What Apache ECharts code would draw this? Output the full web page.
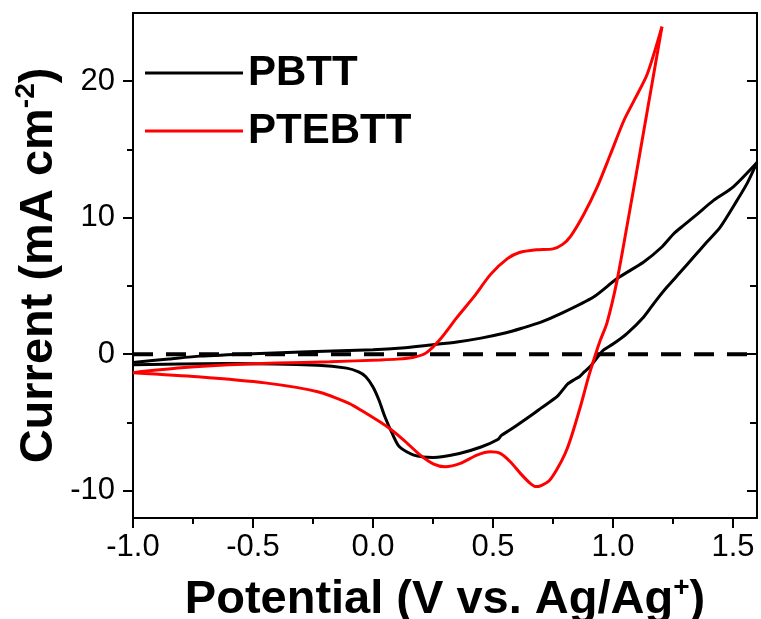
<!DOCTYPE html>
<html>
<head>
<meta charset="utf-8">
<script src="https://cdn.jsdelivr.net/npm/echarts@6/dist/echarts.min.js"></script>
<style>
  html, body { margin: 0; padding: 0; background: #fff; }
  #chart { width: 761px; height: 619px; }
</style>
</head>
<body>
<div id="chart"></div>
<script>
// Axis ranges and tick positions
const potentialRange = [-1.0, 1.6];
const currentRange = [-12, 25];
const xMajorTicks = [-1.0, -0.5, 0.0, 0.5, 1.0, 1.5];
const xMinorTicks = [-0.75, -0.25, 0.25, 0.75, 1.25];
const yMajorTicks = [-10, 0, 10, 20];
const yMinorTicks = [-5, 5, 15];

// Cyclic voltammograms: [potential (V), current density (mA cm-2)]
const pbttForward = [
  [-1.00, -0.60], [-0.85, -0.35], [-0.72, -0.14], [-0.50, 0.04], [-0.27, 0.18],
  [0.00, 0.32], [0.12, 0.45], [0.24, 0.68], [0.35, 0.90], [0.45, 1.18],
  [0.55, 1.55], [0.62, 1.90], [0.70, 2.35], [0.78, 2.95], [0.919, 4.19],
  [1.017, 5.54], [1.128, 6.76], [1.20, 7.80], [1.253, 8.83], [1.294, 9.44],
  [1.35, 10.25], [1.419, 11.27], [1.50, 12.25], [1.60, 14.05]
];
const pbttReverse = [
  [1.60, 14.05], [1.56, 12.55], [1.517, 11.27], [1.447, 9.31], [1.39, 8.20],
  [1.336, 7.12], [1.28, 6.00], [1.225, 4.92], [1.18, 3.95], [1.128, 2.73],
  [1.058, 1.51], [1.003, 0.78], [0.96, 0.30], [0.947, 0.05], [0.905, -0.90],
  [0.88, -1.30], [0.86, -1.65], [0.84, -1.85], [0.81, -2.20], [0.77, -3.05],
  [0.70, -3.95], [0.67, -4.34], [0.57, -5.56], [0.535, -5.95], [0.52, -6.25],
  [0.45, -6.80], [0.36, -7.27], [0.25, -7.56], [0.17, -7.39], [0.11, -6.78],
  [0.08, -5.80], [0.05, -4.60], [0.025, -3.37], [0.00, -2.40], [-0.03, -1.65],
  [-0.06, -1.30], [-0.11, -1.02], [-0.23, -0.80], [-0.60, -0.68], [-1.00, -0.78]
];
const ptebttForward = [
  [-1.00, -1.35], [-0.80, -1.00], [-0.60, -0.78], [-0.40, -0.65], [-0.18, -0.55],
  [0.03, -0.42], [0.10, -0.36], [0.17, -0.22], [0.22, 0.08], [0.28, 1.10],
  [0.35, 2.70], [0.42, 4.20], [0.49, 5.85], [0.56, 7.00], [0.61, 7.45],
  [0.68, 7.65], [0.75, 7.72], [0.79, 8.05], [0.824, 8.66], [0.878, 10.24],
  [0.933, 12.20], [0.989, 14.63], [1.044, 17.07], [1.086, 18.53], [1.142, 20.49],
  [1.204, 24.00]
];
const ptebttReverse = [
  [1.204, 24.00], [1.114, 14.93], [1.065, 10.05], [1.017, 5.41], [0.975, 2.30],
  [0.947, 1.02], [0.926, -0.07], [0.898, -1.66], [0.864, -3.85], [0.822, -6.29],
  [0.80, -7.30], [0.766, -8.45], [0.735, -9.25], [0.70, -9.62], [0.68, -9.70],
  [0.655, -9.46], [0.614, -8.73], [0.572, -7.88], [0.53, -7.27], [0.49, -7.15],
  [0.433, -7.39], [0.364, -8.00], [0.30, -8.24], [0.253, -8.05], [0.197, -7.39],
  [0.128, -6.29], [0.058, -5.30], [-0.05, -4.10], [-0.10, -3.60], [-0.23, -2.75],
  [-0.45, -2.10], [-0.73, -1.65], [-1.00, -1.35]
];
const zeroLine = [[potentialRange[0], 0], [potentialRange[1], 0]];

const FONT = "'Liberation Sans', Arial, Helvetica, sans-serif";
const BLACK = '#000000';
const RED = '#ff0000';

const chart = echarts.init(document.getElementById('chart'), null, { renderer: 'canvas' });

const frameLine = { show: true, onZero: false, lineStyle: { color: BLACK, width: 2 } };
const noLine = { show: false, onZero: false };

function xAxisBase(extra) {
  return Object.assign({
    type: 'value', min: potentialRange[0], max: potentialRange[1],
    splitLine: { show: false }, axisLabel: { show: false }, axisTick: { show: false },
    axisLine: noLine
  }, extra);
}
function yAxisBase(extra) {
  return Object.assign({
    type: 'value', min: currentRange[0], max: currentRange[1],
    splitLine: { show: false }, axisLabel: { show: false }, axisTick: { show: false },
    axisLine: noLine
  }, extra);
}

const option = {
  animation: false,
  backgroundColor: '#ffffff',
  grid: { left: 133, right: 4, top: 13, bottom: 101, containLabel: false, outerBoundsMode: 'none' },
  legend: {
    data: ['PBTT', 'PTEBTT'],
    orient: 'vertical',
    left: 145, top: 44,
    padding: 0,
    icon: 'rect',
    itemWidth: 98, itemHeight: 3, itemGap: 0,
    selectedMode: false,
    textStyle: { fontFamily: FONT, fontSize: 42, fontWeight: 'bold', color: BLACK, lineHeight: 58 }
  },
  xAxis: [
    xAxisBase({
      position: 'bottom',
      axisLine: frameLine,
      axisTick: { show: true, inside: false, length: 10, customValues: xMajorTicks,
                  lineStyle: { color: BLACK, width: 2 } },
      axisLabel: { show: true, customValues: xMajorTicks, margin: 14,
                   formatter: v => v.toFixed(1),
                   fontFamily: FONT, fontSize: 31, color: BLACK },
      name: 'Potential (V vs. Ag/Ag{sup|+})',
      nameLocation: 'middle', nameGap: 56,
      nameTextStyle: {
        fontFamily: FONT, fontSize: 47, fontWeight: 'bold', color: BLACK, lineHeight: 52,
        rich: { sup: { fontFamily: FONT, fontSize: 28, fontWeight: 'bold', color: BLACK, verticalAlign: 'top', lineHeight: 30 } }
      }
    }),
    xAxisBase({
      position: 'bottom',
      axisTick: { show: true, inside: false, length: 6, customValues: xMinorTicks,
                  lineStyle: { color: BLACK, width: 2 } }
    }),
    xAxisBase({ position: 'top', axisLine: frameLine })
  ],
  yAxis: [
    yAxisBase({
      position: 'left',
      axisLine: frameLine,
      axisTick: { show: true, inside: false, length: 10, customValues: yMajorTicks,
                  lineStyle: { color: BLACK, width: 2 } },
      axisLabel: { show: true, customValues: yMajorTicks, margin: 18,
                   formatter: v => String(v),
                   fontFamily: FONT, fontSize: 31, color: BLACK },
      name: 'Current (mA cm{sup|-2})',
      nameLocation: 'middle', nameGap: 67, nameMoveOverlap: false,
      nameTextStyle: {
        fontFamily: FONT, fontSize: 47, fontWeight: 'bold', color: BLACK, lineHeight: 54,
        rich: { sup: { fontFamily: FONT, fontSize: 28, fontWeight: 'bold', color: BLACK, verticalAlign: 'top', lineHeight: 30 } }
      }
    }),
    yAxisBase({
      position: 'left',
      axisTick: { show: true, inside: false, length: 6, customValues: yMinorTicks,
                  lineStyle: { color: BLACK, width: 2 } }
    }),
    yAxisBase({
      position: 'right',
      axisLine: frameLine,
      axisTick: { show: true, inside: true, length: 10, customValues: yMajorTicks,
                  lineStyle: { color: BLACK, width: 2 } }
    }),
    yAxisBase({
      position: 'right',
      axisTick: { show: true, inside: true, length: 7, customValues: yMinorTicks,
                  lineStyle: { color: BLACK, width: 2 } }
    })
  ],
  series: [
    {
      name: 'zero', type: 'line', data: zeroLine, silent: true,
      symbol: 'none', z: 1,
      lineStyle: { color: BLACK, width: 4, type: [20, 13] }
    },
    {
      name: 'PBTT', type: 'line', data: pbttForward, smooth: 0.25,
      symbol: 'none', z: 2, lineStyle: { color: BLACK, width: 3 }, itemStyle: { color: BLACK }
    },
    {
      name: 'PBTT', type: 'line', data: pbttReverse, smooth: 0.25,
      symbol: 'none', z: 2, lineStyle: { color: BLACK, width: 3 }, itemStyle: { color: BLACK }
    },
    {
      name: 'PTEBTT', type: 'line', data: ptebttForward, smooth: 0.25,
      symbol: 'none', z: 3, lineStyle: { color: RED, width: 3 }, itemStyle: { color: RED }
    },
    {
      name: 'PTEBTT', type: 'line', data: ptebttReverse, smooth: 0.25,
      symbol: 'none', z: 3, lineStyle: { color: RED, width: 3 }, itemStyle: { color: RED }
    }
  ]
};

chart.setOption(option);
</script>
</body>
</html>
